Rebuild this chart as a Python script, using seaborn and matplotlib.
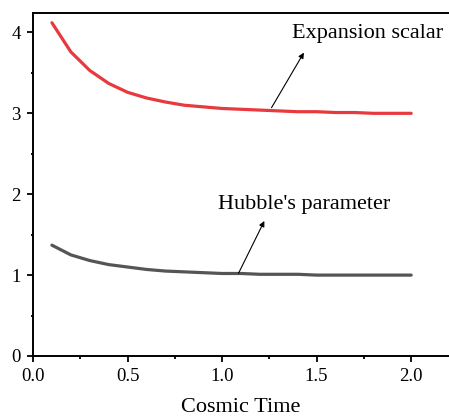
import matplotlib
matplotlib.use("Agg")
import matplotlib.pyplot as plt
import seaborn as sns
import pandas as pd
from matplotlib.ticker import MultipleLocator

sns.set_style("white")
plt.rcParams['font.family'] = ['Liberation Serif', 'DejaVu Serif']
plt.rcParams['text.color'] = 'black'
plt.rcParams['xtick.color'] = 'black'
plt.rcParams['ytick.color'] = 'black'
plt.rcParams['axes.labelcolor'] = 'black'

cosmic_time = [0.1, 0.2, 0.3, 0.4, 0.5, 0.6, 0.7, 0.8, 0.9, 1.0,
               1.1, 1.2, 1.3, 1.4, 1.5, 1.6, 1.7, 1.8, 1.9, 2.0]
expansion_scalar = [4.12, 3.76, 3.53, 3.37, 3.26, 3.19, 3.14, 3.10, 3.08, 3.06,
                    3.05, 3.04, 3.03, 3.02, 3.02, 3.01, 3.01, 3.00, 3.00, 3.00]
hubble_parameter = [1.37, 1.25, 1.18, 1.13, 1.10, 1.07, 1.05, 1.04, 1.03, 1.02,
                    1.02, 1.01, 1.01, 1.01, 1.00, 1.00, 1.00, 1.00, 1.00, 1.00]

df = pd.DataFrame({"t": cosmic_time, "theta": expansion_scalar, "H": hubble_parameter})

fig = plt.figure(figsize=(4.49, 4.20), dpi=100)
ax = fig.add_axes([0.0735, 0.1524, 0.9265, 0.8166])

sns.lineplot(data=df, x="t", y="theta", ax=ax, color="#e8393e", lw=2.3)
sns.lineplot(data=df, x="t", y="H", ax=ax, color="#555555", lw=2.3)

ax.set_xlim(0, 2.2)
ax.set_ylim(0, 4.24)
ax.xaxis.set_major_locator(MultipleLocator(0.5))
ax.xaxis.set_minor_locator(MultipleLocator(0.25))
ax.yaxis.set_major_locator(MultipleLocator(1))
ax.yaxis.set_minor_locator(MultipleLocator(0.5))
ax.set_xticks([0.0, 0.5, 1.0, 1.5, 2.0])
ax.set_xticklabels(["0.0", "0.5", "1.0", "1.5", "2.0"])
ax.tick_params(which="major", direction="out", length=4, width=1.3,
               labelsize=13.5, colors="black", bottom=True, left=True, pad=5)
ax.tick_params(which="minor", direction="out", length=1.8, width=1.3,
               color="black", bottom=True, left=True)
for s in ["left", "bottom", "top"]:
    ax.spines[s].set_visible(True)
    ax.spines[s].set_color("black")
    ax.spines[s].set_linewidth(1.4)
ax.spines["right"].set_visible(False)

ax.set_xlabel("Cosmic Time", fontsize=16, labelpad=9, color="black")
ax.set_ylabel("")

ax.annotate("", xy=(1.44, 3.78), xytext=(1.254, 3.04),
            arrowprops=dict(arrowstyle="-|>", color="black", lw=0.8, mutation_scale=8))
ax.text(1.37, 3.99, "Expansion scalar", fontsize=16, va="center", ha="left", color="black")

ax.annotate("", xy=(1.23, 1.70), xytext=(1.08, 0.99),
            arrowprops=dict(arrowstyle="-|>", color="black", lw=0.8, mutation_scale=8))
ax.text(0.98, 1.87, "Hubble's parameter", fontsize=16, va="center", ha="left", color="black")

fig.savefig("out.png", dpi=100)
